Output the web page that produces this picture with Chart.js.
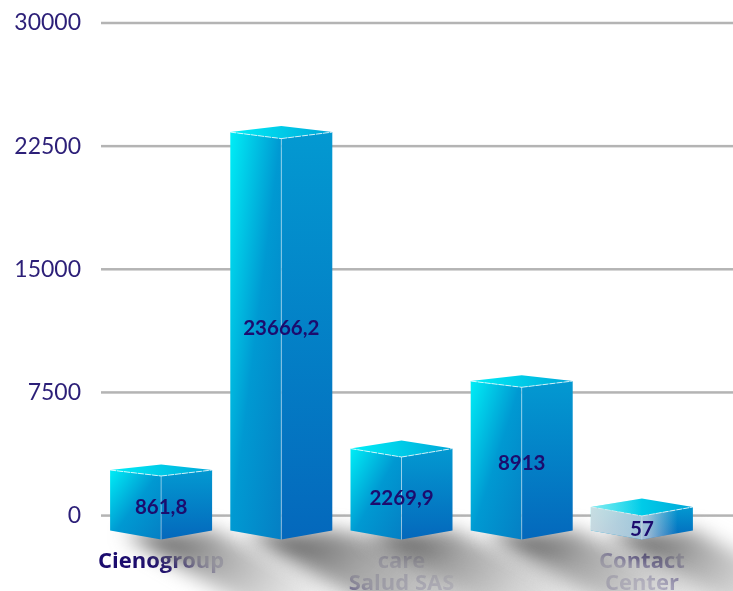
<!DOCTYPE html>
<html>
<head>
<meta charset="utf-8">
<style>
  html, body { margin: 0; padding: 0; background: #fff; }
  canvas { display: block; }
</style>
<script src="https://cdn.jsdelivr.net/npm/chart.js@4"></script>
</head>
<body>
<canvas id="chart" width="733" height="591"></canvas>
<script>
const categories = ["Cienogroup", "", ["care", "Salud SAS"], "", ["Contact", "Center"]];
// printed on the bars
const valueLabels = [861.8, 23666.2, 2269.9, 8913, 57];
// height of the drawn boxes, they are not to scale with the printed values
const boxTops = [3110, 23720, 4570, 8540, 1040];
const boxBase = -1463;
const yTicks = [0, 7500, 15000, 22500, 30000];

const navy = "#1c0c6e";
const tickColor = "#2c1f78";
const capDrop = [5.5, 6, 8, 5.7, 8.5];
const labelShift = [0, -11, 0, 0, 2];
const fadedBox = 4;

// fills a path with a gradient running across the unit square of its bounding box
function fillNorm(ctx, path, x, y, w, h, x1, y1, stops) {
  ctx.save();
  ctx.beginPath();
  path.forEach((p, i) => (i ? ctx.lineTo(p[0], p[1]) : ctx.moveTo(p[0], p[1])));
  ctx.closePath();
  ctx.clip();
  ctx.transform(w, 0, 0, h, x, y);
  let g = ctx.createLinearGradient(0, 0, x1, y1);
  stops.forEach((s) => g.addColorStop(s[0], s[1]));
  ctx.fillStyle = g;
  ctx.fillRect(-1, -1, 3, 3);
  ctx.restore();
}

function line(ctx, a, b, color, dash) {
  ctx.save();
  ctx.strokeStyle = color;
  ctx.lineWidth = 1;
  ctx.setLineDash(dash || []);
  ctx.beginPath();
  ctx.moveTo(a[0], a[1]);
  ctx.lineTo(b[0], b[1]);
  ctx.stroke();
  ctx.restore();
}

// floating bars swap start and end when the start is the bigger number in size
function box(b) {
  return { x: b.x, w: b.width, top: Math.min(b.y, b.base), bottom: Math.max(b.y, b.base) };
}

const cubePlugin = {
  id: "cube",
  beforeDatasetsDraw(chart) {
    let ctx = chart.ctx;
    let yScale = chart.scales.y;

    //gridlines run past the last slot, up to the edge of the page
    yScale.ticks.forEach((t) => {
      let y = yScale.getPixelForValue(t.value);
      ctx.fillStyle = "#b4b4b4";
      ctx.fillRect(chart.chartArea.left, y - 1.25, chart.width, 2.5);
    });

    //shadows fan out to the lower right, over the category labels
    ctx.save();
    ctx.filter = "blur(10px)";
    chart.getDatasetMeta(0).data.forEach((el) => {
      let b = box(el);
      let half = b.w / 2;
      let h = b.bottom - b.top;
      let reach = 150 + h * 0.3;
      let upper = 0.55 - h * 0.0009; //tall boxes throw a flatter shadow
      let g = ctx.createLinearGradient(b.x + 10, b.bottom - 6, b.x + 10 + reach * 0.9, b.bottom - 6 + reach * 0.75);
      g.addColorStop(0, "rgba(95,95,95,0.96)");
      g.addColorStop(0.22, "rgba(155,155,155,0.92)");
      g.addColorStop(0.55, "rgba(208,208,208,0.88)");
      g.addColorStop(1, "rgba(240,240,240,0.12)");
      ctx.fillStyle = g;
      ctx.beginPath();
      ctx.moveTo(b.x - half + 14, b.bottom - 6);
      ctx.lineTo(b.x + half, b.bottom - 9);
      ctx.lineTo(b.x + half + reach, b.bottom - 9 + reach * upper);
      ctx.lineTo(b.x - half + 14 + reach, b.bottom - 6 + reach * 0.58);
      ctx.closePath();
      ctx.fill();
    });
    ctx.restore();
  },
  afterDatasetsDraw(chart) {
    let ctx = chart.ctx;
    chart.getDatasetMeta(0).data.forEach((el, i) => {
      let b = box(el);
      let half = b.w / 2;
      let drop = capDrop[i];
      let left = b.x - half;
      let right = b.x + half;
      let sideBottom = b.bottom - 9;
      let pApex = [b.x, b.top];
      let pLeft = [left, b.top + drop];
      let pRight = [right, b.top + drop];
      let pFront = [b.x, b.top + drop * 2 + 0.5];
      let pLeftB = [left, sideBottom];
      let pRightB = [right, sideBottom];
      let pFrontB = [b.x, b.bottom];

      //left face
      fillNorm(ctx, [pLeft, pFront, pFrontB, pLeftB], left, pLeft[1], half, b.bottom - pLeft[1], 1, 1, [
        [0, "#00eef6"],
        [0.5, "#0099d2"],
        [1, "#057fc4"],
      ]);
      //right face
      fillNorm(ctx, [pFront, pRight, pRightB, pFrontB], b.x, pRight[1], half, b.bottom - pRight[1], 0, 1, [
        [0, "#0399d1"],
        [1, "#0468bc"],
      ]);
      //top
      fillNorm(ctx, [pApex, pRight, pFront, pLeft], left, b.top, b.w, drop * 2, 1, 0, [
        [0, "#00f0f8"],
        [1, "#00a6d8"],
      ]);

      line(ctx, pFront, pFrontB, "rgba(255,255,255,0.45)");
      line(ctx, pLeft, pFront, "rgba(255,255,255,0.75)", [6, 1]);
      line(ctx, pFront, pRight, "rgba(255,255,255,0.75)", [6, 1]);

      //the neighbour's shadow falls over the low box
      if (i === fadedBox) {
        fillNorm(ctx, [pApex, pRight, pFront, pLeft], left, b.top, b.w, drop * 2, 1, 0, [
          [0, "rgba(228,228,232,0.6)"],
          [0.5, "rgba(228,228,232,0)"],
        ]);
        fillNorm(ctx, [pLeft, pFront, pRight, pRightB, pFrontB, pLeftB], left, b.top, b.w, b.bottom - b.top, 1, 0, [
          [0, "rgba(220,220,224,0.9)"],
          [0.55, "rgba(220,220,224,0.7)"],
          [0.85, "rgba(220,220,224,0)"],
        ]);
      }

      ctx.save();
      ctx.font = "bold 20.5px Lato";
      ctx.fillStyle = navy;
      ctx.textAlign = "center";
      ctx.textBaseline = "middle";
      let txt = String(valueLabels[i]).replace(".", ",");
      ctx.fillText(txt, b.x, (pFront[1] + b.bottom) / 2 + labelShift[i]);
      ctx.restore();
    });
  },
};

new Chart(document.getElementById("chart"), {
  type: "bar",
  data: {
    labels: categories,
    datasets: [
      {
        data: boxTops.map((v) => [boxBase, v]),
        backgroundColor: "rgba(0,0,0,0)",
        barThickness: 102,
      },
    ],
  },
  plugins: [cubePlugin],
  options: {
    responsive: false,
    animation: false,
    devicePixelRatio: 1,
    layout: { padding: { top: 23, right: 31, left: 0, bottom: 0 } },
    plugins: { legend: { display: false }, tooltip: { enabled: false } },
    scales: {
      x: {
        grid: { display: false },
        border: { display: false },
        afterFit: (s) => { s.height = 51.4; },
        ticks: {
          color: navy,
          padding: 3,
          maxRotation: 0,
          autoSkip: false,
          font: { family: "Open Sans", size: 22, weight: "bold", lineHeight: "22px" },
        },
      },
      y: {
        min: boxBase,
        max: 30000,
        grid: { display: false },
        border: { display: false },
        afterFit: (s) => {
          s.width = 101;
          s.paddingTop = 0;
          s.paddingBottom = 0;
        },
        afterBuildTicks: (s) => { s.ticks = yTicks.map((v) => ({ value: v })); },
        ticks: {
          color: tickColor,
          padding: 12,
          callback: (v) => String(v),
          font: { family: "Lato", size: 23 },
        },
      },
    },
  },
});
</script>
</body>
</html>
